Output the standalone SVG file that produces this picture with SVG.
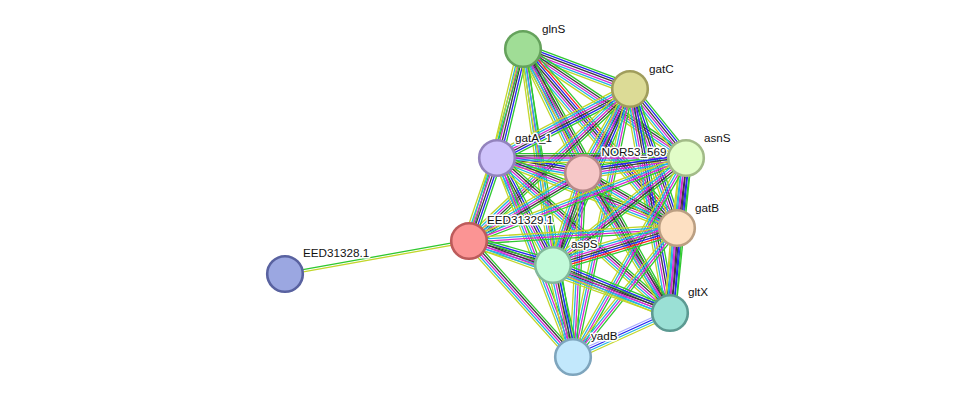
<svg xmlns="http://www.w3.org/2000/svg" xmlns:xlink="http://www.w3.org/1999/xlink" width="975" height="403" viewBox="0 0 975 403">
<style>
line{stroke-width:1.3;fill:none}
.gr{stroke:#2fc82f}.rd{stroke:#ff2020}.bl{stroke:#2424f0}.bk{stroke:#3a3a3a}.mg{stroke:#d42ad4}.cy{stroke:#22b4e2}.ye{stroke:#c2d62a}.lv{stroke:#a8a8ff}
.node{stroke-width:2.6}
.lbl{font-family:"Liberation Sans",Arial,sans-serif;font-size:11.7px;fill:#111;stroke:#fff;stroke-width:3;stroke-linejoin:round;paint-order:stroke}
</style>
<defs>
<g id="k7"><line class="gr" x2="1" y1="-6.6" y2="-6.6"/><line class="rd" x2="1" y1="-4.4" y2="-4.4"/><line class="bl" x2="1" y1="-2.2" y2="-2.2"/><line class="bk" x2="1" y1="0" y2="0"/><line class="mg" x2="1" y1="2.2" y2="2.2"/><line class="cy" x2="1" y1="4.4" y2="4.4"/><line class="ye" x2="1" y1="6.6" y2="6.6"/></g>
<g id="k6"><line class="gr" x2="1" y1="-5.5" y2="-5.5"/><line class="bl" x2="1" y1="-3.3" y2="-3.3"/><line class="bk" x2="1" y1="-1.1" y2="-1.1"/><line class="mg" x2="1" y1="1.1" y2="1.1"/><line class="cy" x2="1" y1="3.3" y2="3.3"/><line class="ye" x2="1" y1="5.5" y2="5.5"/></g>
<g id="k5"><line class="gr" x2="1" y1="-4.4" y2="-4.4"/><line class="bk" x2="1" y1="-2.2" y2="-2.2"/><line class="mg" x2="1" y1="0" y2="0"/><line class="cy" x2="1" y1="2.2" y2="2.2"/><line class="ye" x2="1" y1="4.4" y2="4.4"/></g>
<g id="k4"><line class="gr" x2="1" y1="-3.3" y2="-3.3"/><line class="mg" x2="1" y1="-1.1" y2="-1.1"/><line class="cy" x2="1" y1="1.1" y2="1.1"/><line class="ye" x2="1" y1="3.3" y2="3.3"/></g>
<g id="k3"><line class="gr" x2="1" y1="-2.2" y2="-2.2"/><line class="cy" x2="1" y1="0" y2="0"/><line class="ye" x2="1" y1="2.2" y2="2.2"/></g>
<g id="k2"><line class="gr" x2="1" y1="-1.1" y2="-1.1"/><line class="ye" x2="1" y1="1.1" y2="1.1"/></g>
<g id="hom"><line class="ye" x2="1" y1="-3.3" y2="-3.3"/><line class="cy" x2="1" y1="-1.1" y2="-1.1"/><line class="bl" x2="1" y1="1.1" y2="1.1"/><line class="lv" x2="1" y1="3.3" y2="3.3"/></g>
</defs>
<rect width="975" height="403" fill="#fff"/>
<g id="edges">
<use href="#k6" transform="matrix(107 40 -0.350 0.937 523 49)"/>
<use href="#k6" transform="matrix(-26 109 -0.973 -0.232 523 49)"/>
<use href="#k5" transform="matrix(60 124 -0.900 0.436 523 49)"/>
<use href="#k5" transform="matrix(163 109 -0.556 0.831 523 49)"/>
<use href="#k7" transform="matrix(154 179 -0.758 0.652 523 49)"/>
<use href="#k2" transform="matrix(-54 192 -0.963 -0.271 523 49)"/>
<use href="#k4" transform="matrix(30 216 -0.991 0.138 523 49)"/>
<use href="#k5" transform="matrix(147 264 -0.874 0.486 523 49)"/>
<use href="#k3" transform="matrix(50 308 -0.987 0.160 523 49)"/>
<use href="#k6" transform="matrix(-133 69 -0.461 -0.888 630 89)"/>
<use href="#k6" transform="matrix(-47 84 -0.873 -0.488 630 89)"/>
<use href="#k6" transform="matrix(56 69 -0.776 0.630 630 89)"/>
<use href="#k6" transform="matrix(47 139 -0.947 0.320 630 89)"/>
<use href="#k5" transform="matrix(-161 152 -0.686 -0.727 630 89)"/>
<use href="#k6" transform="matrix(-77 176 -0.916 -0.401 630 89)"/>
<use href="#k6" transform="matrix(40 224 -0.984 0.176 630 89)"/>
<use href="#k4" transform="matrix(-57 268 -0.978 -0.208 630 89)"/>
<use href="#k6" transform="matrix(86 15 -0.172 0.985 497 158)"/>
<use href="#k5" transform="matrix(189 0 0 1 497 158)"/>
<use href="#k5" transform="matrix(180 70 -0.362 0.932 497 158)"/>
<use href="#k6" transform="matrix(-28 83 -0.947 -0.320 497 158)"/>
<use href="#k6" transform="matrix(56 107 -0.886 0.464 497 158)"/>
<use href="#k5" transform="matrix(173 155 -0.667 0.745 497 158)"/>
<use href="#k4" transform="matrix(76 199 -0.934 0.357 497 158)"/>
<use href="#k6" transform="matrix(103 -15 0.144 0.990 583 173)"/>
<use href="#k5" transform="matrix(94 55 -0.505 0.863 583 173)"/>
<use href="#k5" transform="matrix(-114 68 -0.512 -0.859 583 173)"/>
<use href="#k5" transform="matrix(-30 92 -0.951 -0.310 583 173)"/>
<use href="#k5" transform="matrix(87 140 -0.849 0.528 583 173)"/>
<use href="#k4" transform="matrix(-10 184 -0.999 -0.054 583 173)"/>
<use href="#k6" transform="matrix(-9 70 -0.992 -0.128 686 158)"/>
<use href="#k4" transform="matrix(-217 83 -0.357 -0.934 686 158)"/>
<use href="#k5" transform="matrix(-133 107 -0.627 -0.779 686 158)"/>
<use href="#k6" transform="matrix(-16 155 -0.995 -0.103 686 158)"/>
<use href="#k4" transform="matrix(-113 199 -0.870 -0.494 686 158)"/>
<use href="#k4" transform="matrix(-208 13 -0.062 -0.998 677 228)"/>
<use href="#k7" transform="matrix(-124 37 -0.286 -0.958 677 228)"/>
<use href="#k6" transform="matrix(-7 85 -0.997 -0.082 677 228)"/>
<use href="#k4" transform="matrix(-104 129 -0.779 -0.628 677 228)"/>
<use href="#k6" transform="matrix(84 24 -0.275 0.962 469 241)"/>
<use href="#k5" transform="matrix(201 72 -0.337 0.941 469 241)"/>
<use href="#k5" transform="matrix(104 116 -0.745 0.668 469 241)"/>
<use href="#k6" transform="matrix(117 48 -0.380 0.925 553 265)"/>
<use href="#k6" transform="matrix(20 92 -0.977 0.212 553 265)"/>
<use href="#hom" transform="matrix(-97 44 -0.413 -0.911 670 313)"/>
<use href="#k2" transform="matrix(184 -33 0.177 0.984 285 274)"/>
</g>
<g id="glnS"><circle class="node" cx="523" cy="49" r="17.8" fill="#a0dd96" stroke="#65a25c"/><text class="lbl" x="542" y="32.5">glnS</text></g>
<g id="gatC"><circle class="node" cx="630" cy="89" r="17.8" fill="#dcdb96" stroke="#a09d5c"/><text class="lbl" x="649" y="72.5">gatC</text></g>
<g id="gatA_1"><circle class="node" cx="497" cy="158" r="17.8" fill="#cfc3fb" stroke="#9383bd"/><text class="lbl" x="515" y="141.5">gatA_1</text></g>
<g id="NOR53_569"><circle class="node" cx="583" cy="173" r="17.8" fill="#f6c7c7" stroke="#b68888"/><text class="lbl" x="601.5" y="156">NOR53_569</text></g>
<g id="asnS"><circle class="node" cx="686" cy="158" r="17.8" fill="#e1fdc8" stroke="#a2bb88"/><text class="lbl" x="704" y="141.5">asnS</text></g>
<g id="gatB"><circle class="node" cx="677" cy="228" r="17.8" fill="#fde0c2" stroke="#bb9f82"/><text class="lbl" x="695" y="211.5">gatB</text></g>
<g id="EED31329.1"><circle class="node" cx="469" cy="241" r="17.8" fill="#fb9494" stroke="#bd5b5b"/><text class="lbl" x="487" y="224">EED31329.1</text></g>
<g id="aspS"><circle class="node" cx="553" cy="265" r="17.8" fill="#c2fad9" stroke="#83b89b"/><text class="lbl" x="571" y="248">aspS</text></g>
<g id="gltX"><circle class="node" cx="670" cy="313" r="17.8" fill="#9ae0d5" stroke="#5c9a92"/><text class="lbl" x="688" y="296">gltX</text></g>
<g id="yadB"><circle class="node" cx="573" cy="357" r="17.8" fill="#c2e8fc" stroke="#7ea5bd"/><text class="lbl" x="591" y="340">yadB</text></g>
<g id="EED31328.1"><circle class="node" cx="285" cy="274" r="17.8" fill="#9ba7e1" stroke="#5962a0"/><text class="lbl" x="303" y="257">EED31328.1</text></g>
</svg>
